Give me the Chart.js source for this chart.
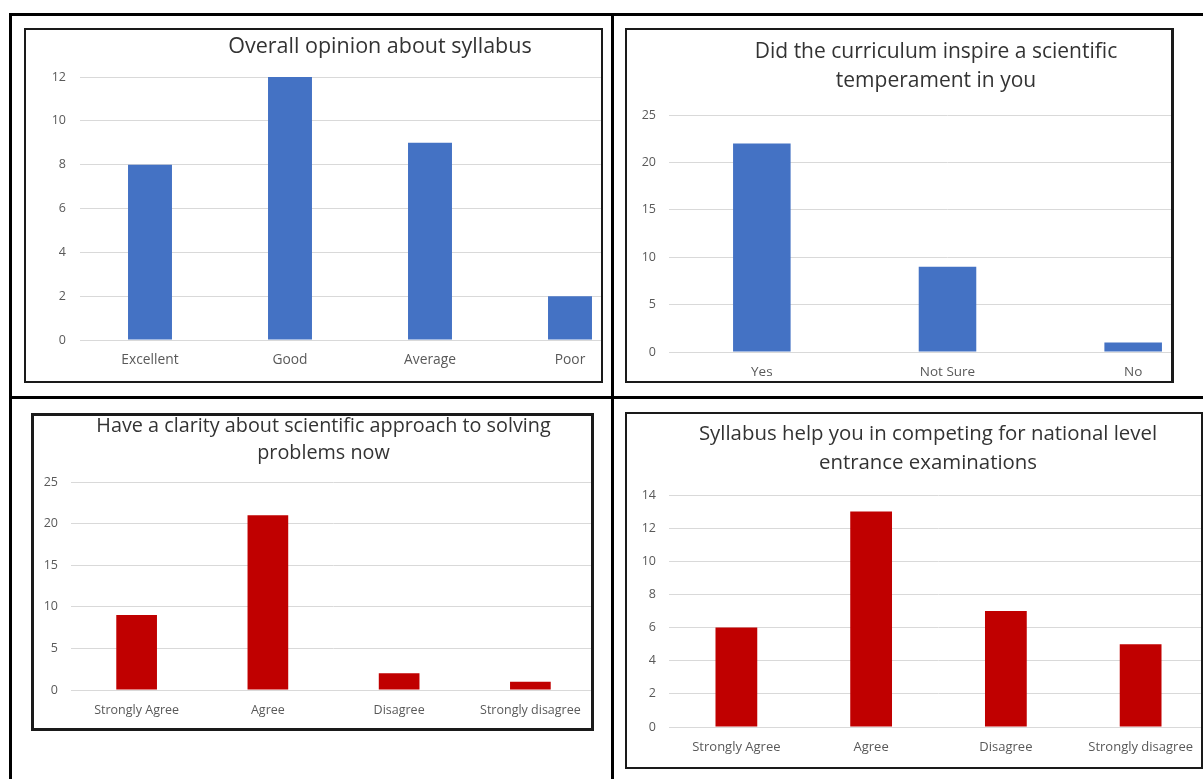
<!DOCTYPE html>
<html>
<head>
<meta charset="utf-8">
<script src="https://cdn.jsdelivr.net/npm/chart.js@4.4.1/dist/chart.umd.min.js"></script>
<style>
  html, body { margin: 0; padding: 0; background: #fff; }
  body { width: 1203px; height: 779px; position: relative; overflow: hidden; }
  .line { position: absolute; background: #000; }
  .box { position: absolute; border: 2px solid #1a1a1a; overflow: hidden; background: #fff; box-sizing: border-box; }
  .box canvas { position: absolute; }
</style>
</head>
<body>
<div class="line" style="left:9px;top:13px;width:1194px;height:3px"></div>
<div class="line" style="left:9px;top:13px;width:3px;height:766px"></div>
<div class="line" style="left:611px;top:13px;width:3px;height:766px"></div>
<div class="line" style="left:9px;top:396px;width:1194px;height:3px"></div>

<div class="box" style="left:24px;top:28px;width:579px;height:355px"><canvas id="c1"></canvas></div>
<div class="box" style="left:625px;top:28px;width:549px;height:355px;border-width:2px 3px 2px 2px"><canvas id="c2"></canvas></div>
<div class="box" style="left:31px;top:413px;width:563px;height:318px;border-width:3px"><canvas id="c3"></canvas></div>
<div class="box" style="left:625px;top:412px;width:578px;height:357px"><canvas id="c4"></canvas></div>

<script>
// ---- data ----
const categories1 = ['Excellent', 'Good', 'Average', 'Poor'];
const values1 = [8, 12, 9, 2];
const title1 = ['Overall opinion about syllabus'];
const yTicks1 = { max: 12, step: 2 };

const categories2 = ['Yes', 'Not Sure', 'No'];
const values2 = [22, 9, 1];
const title2 = ['Did the curriculum inspire a scientific', 'temperament in you'];
const yTicks2 = { max: 25, step: 5 };

const categories3 = ['Strongly Agree', 'Agree', 'Disagree', 'Strongly disagree'];
const values3 = [9, 21, 2, 1];
const title3 = ['Have a clarity about scientific approach to solving', 'problems now'];
const yTicks3 = { max: 25, step: 5 };

const categories4 = ['Strongly Agree', 'Agree', 'Disagree', 'Strongly disagree'];
const values4 = [6, 13, 7, 5];
const title4 = ['Syllabus help you in competing for national level', 'entrance examinations'];
const yTicks4 = { max: 14, step: 2 };

const BLUE = '#4472C4';
const RED = '#C00000';
const TFONT = '"Open Sans", Lato, sans-serif';
const FONT = '"Open Sans", Lato, sans-serif';

function makeChart(id, cats, vals, color, title, yt, g) {
  const cv = document.getElementById(id);
  cv.width = g.w; cv.height = g.h;
  cv.style.width = g.w + 'px'; cv.style.height = g.h + 'px';
  cv.style.left = g.left + 'px'; cv.style.top = g.top + 'px';
  return new Chart(cv, {
    type: 'bar',
    data: { labels: cats, datasets: [{ data: vals, backgroundColor: color, borderWidth: 0,
      categoryPercentage: 1, barPercentage: g.bar }] },
    options: {
      responsive: false, animation: false, devicePixelRatio: 1,
      layout: { padding: 0 },
      plugins: {
        legend: { display: false }, tooltip: { enabled: false },
        title: { display: true, text: title, color: '#333333',
          font: { family: TFONT, size: g.tSize, lineHeight: g.tLH + 'px', weight: 'normal' },
          padding: { top: g.tPadT, bottom: g.tPadB } }
      },
      scales: {
        x: {
          grid: { display: false, drawTicks: false },
          border: { display: true, color: '#D9D9D9', width: 1 },
          ticks: { color: '#595959', font: { family: FONT, size: g.xSize }, padding: g.xPad,
            maxRotation: 0, autoSkip: false },
          afterFit: s => { s.height = g.xH; }
        },
        y: {
          min: 0, max: yt.max,
          grid: { color: '#D9D9D9', drawTicks: false, lineWidth: 1 },
          border: { display: false },
          ticks: { stepSize: yt.step, color: '#595959', font: { family: FONT, size: 12.5 }, padding: g.yPad },
          afterFit: s => { s.width = g.yW; }
        },
        // empty right-hand spacer: keeps the plot narrower than the chart title span
        spacer: {
          type: 'linear', position: 'right', display: true,
          grid: { display: false, drawTicks: false }, border: { display: false },
          ticks: { display: false },
          afterFit: s => { s.width = g.padR; }
        }
      }
    }
  });
}

makeChart('c1', categories1, values1, BLUE, title1, yTicks1,
  { left: 0, top: 0, w: 708, h: 351, padR: 94, tSize: 21.5, tLH: 24, tPadT: 5, tPadB: 18,
    yW: 54, yPad: 14, xH: 41, bar: 0.314, xSize: 13.8, xPad: 12 });
makeChart('c2', categories2, values2, BLUE, title2, yTicks2,
  { left: 0, top: 0, w: 618, h: 351, padR: 19, tSize: 21, tLH: 29, tPadT: 7.5, tPadB: 19.5,
    yW: 42, yPad: 13, xH: 29, bar: 0.31, xSize: 13.5, xPad: 12 });
makeChart('c3', categories3, values3, RED, title3, yTicks3,
  { left: 0, top: -6, w: 579, h: 318, padR: 17, tSize: 19.8, tLH: 27, tPadT: 2.5, tPadB: 15.5,
    yW: 37, yPad: 13, xH: 38, bar: 0.31, xSize: 12.5, xPad: 13 });
makeChart('c4', categories4, values4, RED, title4, yTicks4,
  { left: 0, top: 0, w: 602, h: 353, padR: 21, tSize: 20.4, tLH: 29, tPadT: 5.5, tPadB: 17.5,
    yW: 42, yPad: 13, xH: 40, bar: 0.31, xSize: 13, xPad: 12 });
</script>
</body>
</html>
